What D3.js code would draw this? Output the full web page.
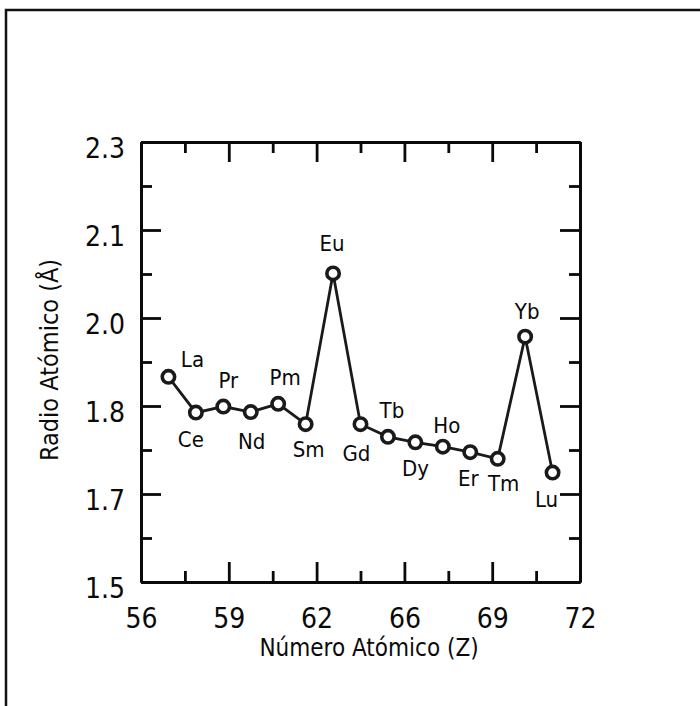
<!DOCTYPE html>
<html>
<head>
<meta charset="utf-8">
<script src="https://cdn.jsdelivr.net/npm/d3@7/dist/d3.min.js"></script>
<style>
  html, body { margin: 0; padding: 0; background: #fff; }
  svg { display: block; }
  text { font-family: "DejaVu Sans Condensed", "DejaVu Sans", sans-serif; font-stretch: condensed; fill: #0a0a0a; }
</style>
</head>
<body>
<svg id="chart" width="700" height="706"></svg>
<script>
// Lanthanide series: atomic number, symbol and metallic radius (Å)
const atomicNumbers = [57, 58, 59, 60, 61, 62, 63, 64, 65, 66, 67, 68, 69, 70, 71];
const symbols = ["La", "Ce", "Pr", "Nd", "Pm", "Sm", "Eu", "Gd", "Tb", "Dy", "Ho", "Er", "Tm", "Yb", "Lu"];
const radii = [1.873, 1.808, 1.819, 1.809, 1.824, 1.787, 2.061, 1.787, 1.764, 1.754, 1.746, 1.736, 1.724, 1.946, 1.699];

// Axis tick labels (evenly spaced along each axis)
const xTickLabels = ["56", "59", "62", "66", "69", "72"];
const yTickLabels = ["1.5", "1.7", "1.8", "2.0", "2.1", "2.3"];

// Where each element symbol sits relative to its marker
const labelOffsets = [
  [24, -10], [-5, 34], [5, -19], [1, 37], [7, -19], [3, 33], [-1, -22], [-4, 37],
  [4, -19], [0, 34], [4, -14], [-2, 34], [6, 32], [2, -18], [-6, 34]
];

const svg = d3.select("#chart");

// Outer frame
svg.append("rect")
  .attr("x", 6).attr("y", 10).attr("width", 900).attr("height", 900)
  .attr("fill", "none").attr("stroke", "#111").attr("stroke-width", 2.5);

const plotLeft = 141, plotRight = 580, plotTop = 142, plotBottom = 582;
const x = d3.scaleLinear().domain([56, 72]).range([plotLeft, plotRight]);
const y = d3.scaleLinear().domain([1.5, 2.3]).range([plotBottom, plotTop]);

const nx = xTickLabels.length, ny = yTickLabels.length;
const xTicks = d3.range(nx).map(i => 56 + i * (72 - 56) / (nx - 1));
const yTicks = d3.range(ny).map(i => 1.5 + i * (2.3 - 1.5) / (ny - 1));
const xMinor = d3.range(nx - 1).map(i => (xTicks[i] + xTicks[i + 1]) / 2);
const yMinor = d3.range(ny - 1).map(i => (yTicks[i] + yTicks[i + 1]) / 2);

const AXIS_W = 2.8;
function styleAxis(g) {
  g.select(".domain").attr("stroke", "#0a0a0a").attr("stroke-width", AXIS_W);
  g.selectAll(".tick line").attr("stroke", "#0a0a0a").attr("stroke-width", AXIS_W);
}

// Bottom axis with labels
const gx = svg.append("g").attr("transform", `translate(0,${plotBottom})`)
  .call(d3.axisBottom(x).tickValues(xTicks).tickSize(-20).tickSizeOuter(0)
    .tickFormat((d, i) => xTickLabels[i]));
styleAxis(gx);
gx.selectAll(".tick text").attr("y", 46).attr("dy", null)
  .style("font-size", "28px");

// Left axis with labels
const gy = svg.append("g").attr("transform", `translate(${plotLeft},0)`)
  .call(d3.axisLeft(y).tickValues(yTicks).tickSize(-20).tickSizeOuter(0)
    .tickFormat((d, i) => yTickLabels[i]));
styleAxis(gy);
gy.selectAll(".tick text").attr("x", -16).attr("dy", null).attr("y", 15)
  .style("font-size", "28px");

// Top and right mirror axes
const gt = svg.append("g").attr("transform", `translate(0,${plotTop})`)
  .call(d3.axisTop(x).tickValues(xTicks).tickSize(-20).tickSizeOuter(0).tickFormat(""));
styleAxis(gt);
const gr = svg.append("g").attr("transform", `translate(${plotRight},0)`)
  .call(d3.axisRight(y).tickValues(yTicks).tickSize(-20).tickSizeOuter(0).tickFormat(""));
styleAxis(gr);

// Minor ticks on all four sides
[[d3.axisBottom(x).tickValues(xMinor), `translate(0,${plotBottom})`],
 [d3.axisTop(x).tickValues(xMinor), `translate(0,${plotTop})`],
 [d3.axisLeft(y).tickValues(yMinor), `translate(${plotLeft},0)`],
 [d3.axisRight(y).tickValues(yMinor), `translate(${plotRight},0)`]].forEach(([ax, tr]) => {
  const g = svg.append("g").attr("transform", tr)
    .call(ax.tickSize(-11).tickSizeOuter(0).tickFormat(""));
  styleAxis(g);
});

// Axis titles
svg.append("text")
  .attr("x", 369).attr("y", 656)
  .attr("text-anchor", "middle").style("font-size", "24px")
  .text("Número Atómico (Z)");
svg.append("text")
  .attr("transform", "translate(58,360) rotate(-90)")
  .attr("text-anchor", "middle").style("font-size", "25px")
  .text("Radio Atómico (Å)");

// Data line and markers
const pts = atomicNumbers.map((z, i) => ({ z, r: radii[i], s: symbols[i], o: labelOffsets[i] }));
svg.append("path")
  .datum(pts)
  .attr("fill", "none").attr("stroke", "#1a1a1a").attr("stroke-width", 2.8)
  .attr("d", d3.line().x(d => x(d.z)).y(d => y(d.r)));

svg.append("g").selectAll("circle").data(pts).join("circle")
  .attr("cx", d => x(d.z)).attr("cy", d => y(d.r)).attr("r", 6.2)
  .attr("fill", "#fff").attr("stroke", "#1a1a1a").attr("stroke-width", 3.6);

svg.append("g").selectAll("text").data(pts).join("text")
  .attr("x", d => x(d.z) + d.o[0]).attr("y", d => y(d.r) + d.o[1])
  .attr("text-anchor", "middle").style("font-size", "22px")
  .text(d => d.s);
</script>
</body>
</html>
